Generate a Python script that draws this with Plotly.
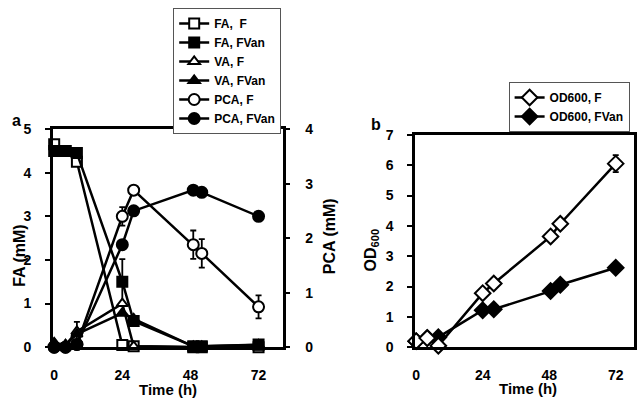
import plotly.graph_objects as go

# ---- data (panel a) ----
time_a = [0, 4, 8, 24, 28, 49, 52, 72]
fa_f = [4.65, 4.5, 4.25, 0.05, 0.02, 0.0, 0.0, 0.0]
fa_fvan = [4.5, 4.5, 4.45, 1.5, 0.6, 0.02, 0.02, 0.06]
fa_fvan_err = [0, 0, 0, 0.52, 0, 0, 0, 0]
va_f = [0.08, 0.05, 0.36, 1.0, 0.02, 0.0, 0.0, 0.0]
va_f_err = [0, 0, 0.22, 0, 0, 0, 0, 0]
va_fvan = [0.1, 0.05, 0.3, 0.78, 0.65, 0.02, 0.02, 0.05]
pca_f = [0.0, 0.0, 0.05, 2.4, 2.88, 1.88, 1.72, 0.74]
pca_f_err = [0, 0, 0, 0.17, 0.07, 0.26, 0.26, 0.21]
pca_fvan = [0.0, 0.0, 0.05, 1.88, 2.5, 2.88, 2.84, 2.4]

# ---- data (panel b) ----
time_b = [0, 4, 8, 24, 28, 48.5, 52, 72]
od_f = [0.2, 0.3, 0.05, 1.78, 2.1, 3.65, 4.07, 6.05]
od_f_err = [0, 0, 0, 0, 0, 0, 0, 0.28]
od_fvan = [0.2, 0.3, 0.33, 1.22, 1.25, 1.85, 2.06, 2.62]

xticks = [0, 24, 48, 72]

FONT = "Liberation Sans, Arial, sans-serif"
LW = 2.5

def mk(symbol, filled, size=10):
    return dict(symbol=symbol, size=size, color="black" if filled else "white",
                line=dict(color="black", width=2))

def err(arr):
    return dict(type="data", array=arr, visible=True, color="black",
                thickness=1.8, width=3)

fig = go.Figure()

# panel a, left axis
fig.add_trace(go.Scatter(x=time_a, y=fa_f, name="FA,&nbsp; F", mode="lines+markers",
                         line=dict(color="black", width=LW), marker=mk("square", False),
                         xaxis="x", yaxis="y", cliponaxis=False, legend="legend"))
fig.add_trace(go.Scatter(x=time_a, y=fa_fvan, name="FA, FVan", mode="lines+markers",
                         line=dict(color="black", width=LW), marker=mk("square", True),
                         error_y=err(fa_fvan_err),
                         xaxis="x", yaxis="y", cliponaxis=False, legend="legend"))
fig.add_trace(go.Scatter(x=time_a, y=va_f, name="VA, F", mode="lines+markers",
                         line=dict(color="black", width=LW), marker=mk("triangle-up", False, 10),
                         error_y=err(va_f_err),
                         xaxis="x", yaxis="y", cliponaxis=False, legend="legend"))
fig.add_trace(go.Scatter(x=time_a, y=va_fvan, name="VA, FVan", mode="lines+markers",
                         line=dict(color="black", width=LW), marker=mk("triangle-up", True, 10),
                         xaxis="x", yaxis="y", cliponaxis=False, legend="legend"))
# panel a, right axis
fig.add_trace(go.Scatter(x=time_a, y=pca_f, name="PCA, F", mode="lines+markers",
                         line=dict(color="black", width=LW), marker=mk("circle", False, 11),
                         error_y=err(pca_f_err),
                         xaxis="x", yaxis="y2", cliponaxis=False, legend="legend"))
fig.add_trace(go.Scatter(x=time_a, y=pca_fvan, name="PCA, FVan", mode="lines+markers",
                         line=dict(color="black", width=LW), marker=mk("circle", True, 11),
                         xaxis="x", yaxis="y2", cliponaxis=False, legend="legend"))

# panel b
fig.add_trace(go.Scatter(x=time_b, y=od_fvan, name="OD600, FVan", mode="lines+markers",
                         line=dict(color="black", width=LW), marker=mk("diamond", True, 12),
                         xaxis="x2", yaxis="y3", cliponaxis=False, legend="legend2"))
fig.add_trace(go.Scatter(x=time_b, y=od_f, name="OD600, F", mode="lines+markers",
                         line=dict(color="black", width=LW), marker=mk("diamond", False, 12),
                         error_y=err(od_f_err),
                         xaxis="x2", yaxis="y3", cliponaxis=False, legend="legend2"))

tickfont = dict(family=FONT, size=14, color="black", weight="bold")
axcommon = dict(showline=True, linecolor="black", linewidth=LW, showgrid=False,
                zeroline=False, tickfont=tickfont)

W, H = 638, 409
def px(xp):
    return xp / W
def py(yp):
    return 1 - yp / H

fig.update_layout(
    width=W, height=H, margin=dict(l=0, r=0, t=0, b=0),
    paper_bgcolor="white", plot_bgcolor="white",
    font=dict(family=FONT, color="black"),
    xaxis=dict(domain=[px(50), px(281)], range=[-0.5, 80.5], tickvals=xticks,
               ticks="", mirror=True, anchor="y", ticklabelstandoff=13, **axcommon),
    yaxis=dict(domain=[py(353), py(126)], range=[0, 5], dtick=1, ticks="outside",
               ticklen=5, tickwidth=2, tickcolor="black", anchor="x",
               ticklabelstandoff=11, **axcommon),
    yaxis2=dict(overlaying="y", side="right", range=[0, 4], dtick=1, ticks="outside",
                ticklen=5, tickwidth=2, tickcolor="black", anchor="x",
                ticklabelstandoff=12, **axcommon),
    xaxis2=dict(domain=[px(414), px(634)], range=[-0.4, 78.6], tickvals=xticks,
                ticks="", mirror=True, anchor="y3", ticklabelstandoff=13, **axcommon),
    yaxis3=dict(domain=[py(353), py(132)], range=[0, 7], dtick=1, ticks="outside",
                ticklen=5, tickwidth=2, tickcolor="black", anchor="x2", mirror=True,
                ticklabelstandoff=11, **axcommon),
    legend=dict(x=px(171), y=1.0, xanchor="left", yanchor="top",
                bgcolor="white", bordercolor="#555", borderwidth=1,
                font=dict(family=FONT, size=12, color="black", weight="bold"),
                itemwidth=30, tracegroupgap=0),
    legend2=dict(x=px(508), y=py(77), xanchor="left", yanchor="top",
                 bgcolor="white", bordercolor="#555", borderwidth=1,
                 font=dict(family=FONT, size=12, color="black", weight="bold"),
                 itemwidth=30, traceorder="reversed"),
    showlegend=True,
)

titlefont = dict(family=FONT, size=16, color="black", weight="bold")
ann = [
    dict(text="a", x=px(14), y=py(117), font=dict(family=FONT, size=16, color="black", weight="bold")),
    dict(text="b", x=px(375), y=py(121), font=dict(family=FONT, size=16, color="black", weight="bold")),
    dict(text="FA (mM)", x=px(17), y=py(257), textangle=-90, font=titlefont),
    dict(text="PCA (mM)", x=px(328), y=py(237), textangle=-90, font=titlefont),
    dict(text="OD<sub>600</sub>", x=px(370), y=py(252), textangle=-90, font=titlefont),
    dict(text="Time (h)", x=px(166), y=py(397), font=dict(family=FONT, size=15, color="black", weight="bold")),
    dict(text="Time (h)", x=px(527), y=py(396), font=dict(family=FONT, size=15, color="black", weight="bold")),
]
for a in ann:
    a.update(xref="paper", yref="paper", showarrow=False, xanchor="center", yanchor="middle")
fig.update_layout(annotations=ann)

fig.write_html("out.html", config={"displayModeBar": False},
               post_script="document.body.style.margin='0';document.body.style.padding='0';")
